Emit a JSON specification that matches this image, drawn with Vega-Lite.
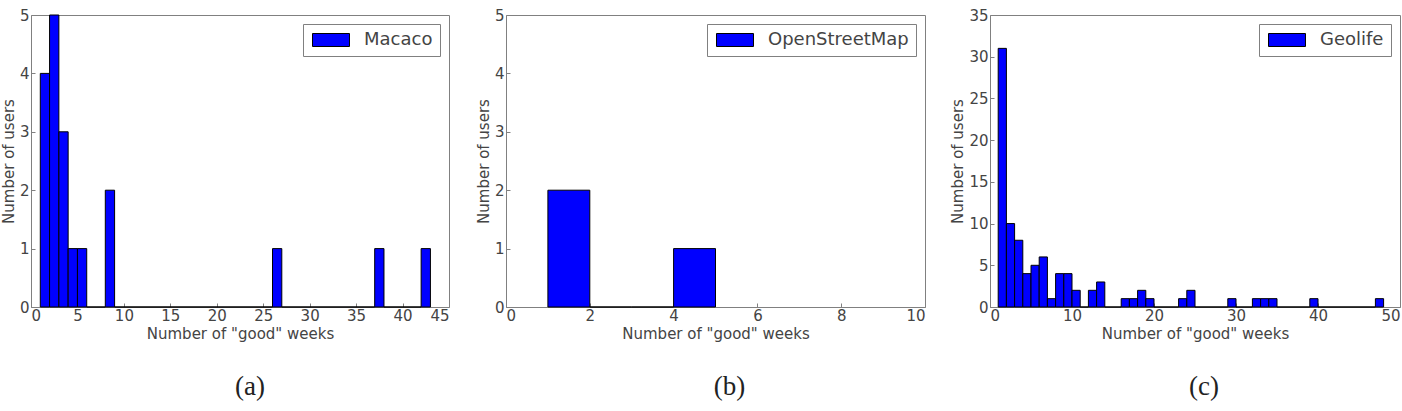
{
  "$schema": "https://vega.github.io/schema/vega-lite/v6.json",
  "padding": {"left": 0, "top": 7, "right": 0, "bottom": 0},
  "autosize": {"type": "pad"},
  "background": "white",
  "config": {
    "font": "DejaVu Sans",
    "view": {"stroke": "#808080", "strokeWidth": 1},
    "axis": {
      "labelFont": "DejaVu Sans", "labelFontSize": 15, "labelColor": "#444444",
      "titleFont": "DejaVu Sans", "titleFontSize": 15, "titleFontWeight": "normal", "titleColor": "#444444",
      "domain": false, "grid": false, "tickColor": "#808080", "tickSize": -4, "labelPadding": 6
    },
    "axisX": {"titlePadding": 3, "labelPadding": 5},
    "axisY": {"titlePadding": 3},
    "legend": {
      "orient": "top-right", "offset": 9, "strokeColor": "#808080", "fillColor": "white", "padding": 7,
      "symbolType": "M-1,-1H4.692V1H-1Z", "symbolSize": 169, "symbolStrokeColor": "black", "symbolStrokeWidth": 1,
      "symbolOpacity": 1, "labelFont": "DejaVu Sans", "labelFontSize": 18, "labelColor": "#444444", "labelOffset": 36,
      "cornerRadius": 0
    },
    "title": {"font": "Liberation Serif", "fontSize": 27, "fontWeight": "normal", "color": "#222222", "orient": "bottom", "offset": 33}
  },
  "bounds": "flush",
  "spacing": 57,
  "resolve": {"scale": {"color": "independent"}, "legend": {"color": "independent"}},
  "hconcat": [
    {
      "width": 418, "height": 292,
      "title": {"text": "(a)", "dx": 10},
      "data": {"values": [
        {"start": 1, "end": 2, "users": 4, "source": "Macaco"},
        {"start": 2, "end": 3, "users": 5, "source": "Macaco"},
        {"start": 3, "end": 4, "users": 3, "source": "Macaco"},
        {"start": 4, "end": 5, "users": 1, "source": "Macaco"},
        {"start": 5, "end": 6, "users": 1, "source": "Macaco"},
        {"start": 6, "end": 7, "users": 0, "source": "Macaco"},
        {"start": 7, "end": 8, "users": 0, "source": "Macaco"},
        {"start": 8, "end": 9, "users": 2, "source": "Macaco"},
        {"start": 9, "end": 26, "users": 0, "source": "Macaco"},
        {"start": 26, "end": 27, "users": 1, "source": "Macaco"},
        {"start": 27, "end": 37, "users": 0, "source": "Macaco"},
        {"start": 37, "end": 38, "users": 1, "source": "Macaco"},
        {"start": 38, "end": 42, "users": 0, "source": "Macaco"},
        {"start": 42, "end": 43, "users": 1, "source": "Macaco"}
      ]},
      "mark": {"type": "bar", "stroke": "black", "strokeWidth": 1, "opacity": 1},
      "encoding": {
        "x": {"field": "start", "type": "quantitative", "scale": {"domain": [0, 45], "nice": false, "zero": false},
              "axis": {"values": [0, 5, 10, 15, 20, 25, 30, 35, 40, 45], "title": "Number of \"good\" weeks"}},
        "x2": {"field": "end"},
        "y": {"field": "users", "type": "quantitative", "scale": {"domain": [0, 5], "nice": false},
              "axis": {"values": [0, 1, 2, 3, 4, 5], "title": "Number of users"}},
        "y2": {"datum": 0},
        "color": {"field": "source", "type": "nominal", "scale": {"range": ["#0000ff"]}, "legend": {"title": null}}
      }
    },
    {
      "bounds": "flush",
      "spacing": 65,
      "resolve": {"scale": {"color": "independent"}, "legend": {"color": "independent"}},
      "hconcat": [
        {
          "width": 419, "height": 292,
          "title": {"text": "(b)", "dx": 14},
          "data": {"values": [
            {"start": 1, "end": 2, "users": 2, "source": "OpenStreetMap"},
            {"start": 2, "end": 3, "users": 0, "source": "OpenStreetMap"},
            {"start": 3, "end": 4, "users": 0, "source": "OpenStreetMap"},
            {"start": 4, "end": 5, "users": 1, "source": "OpenStreetMap"}
          ]},
          "mark": {"type": "bar", "stroke": "black", "strokeWidth": 1, "opacity": 1},
          "encoding": {
            "x": {"field": "start", "type": "quantitative", "scale": {"domain": [0, 10], "nice": false, "zero": false},
                  "axis": {"values": [0, 2, 4, 6, 8, 10], "title": "Number of \"good\" weeks"}},
            "x2": {"field": "end"},
            "y": {"field": "users", "type": "quantitative", "scale": {"domain": [0, 5], "nice": false},
                  "axis": {"values": [0, 1, 2, 3, 4, 5], "title": "Number of users"}},
            "y2": {"datum": 0},
            "color": {"field": "source", "type": "nominal", "scale": {"range": ["#0000ff"]}, "legend": {"title": null}}
          }
        },
        {
          "width": 410, "height": 292,
          "title": {"text": "(c)", "dx": 9},
          "data": {"values": [
            {"start": 1, "end": 2, "users": 31, "source": "Geolife"},
            {"start": 2, "end": 3, "users": 10, "source": "Geolife"},
            {"start": 3, "end": 4, "users": 8, "source": "Geolife"},
            {"start": 4, "end": 5, "users": 4, "source": "Geolife"},
            {"start": 5, "end": 6, "users": 5, "source": "Geolife"},
            {"start": 6, "end": 7, "users": 6, "source": "Geolife"},
            {"start": 7, "end": 8, "users": 1, "source": "Geolife"},
            {"start": 8, "end": 9, "users": 4, "source": "Geolife"},
            {"start": 9, "end": 10, "users": 4, "source": "Geolife"},
            {"start": 10, "end": 11, "users": 2, "source": "Geolife"},
            {"start": 11, "end": 12, "users": 0, "source": "Geolife"},
            {"start": 12, "end": 13, "users": 2, "source": "Geolife"},
            {"start": 13, "end": 14, "users": 3, "source": "Geolife"},
            {"start": 14, "end": 16, "users": 0, "source": "Geolife"},
            {"start": 16, "end": 17, "users": 1, "source": "Geolife"},
            {"start": 17, "end": 18, "users": 1, "source": "Geolife"},
            {"start": 18, "end": 19, "users": 2, "source": "Geolife"},
            {"start": 19, "end": 20, "users": 1, "source": "Geolife"},
            {"start": 20, "end": 23, "users": 0, "source": "Geolife"},
            {"start": 23, "end": 24, "users": 1, "source": "Geolife"},
            {"start": 24, "end": 25, "users": 2, "source": "Geolife"},
            {"start": 25, "end": 29, "users": 0, "source": "Geolife"},
            {"start": 29, "end": 30, "users": 1, "source": "Geolife"},
            {"start": 30, "end": 32, "users": 0, "source": "Geolife"},
            {"start": 32, "end": 33, "users": 1, "source": "Geolife"},
            {"start": 33, "end": 34, "users": 1, "source": "Geolife"},
            {"start": 34, "end": 35, "users": 1, "source": "Geolife"},
            {"start": 35, "end": 39, "users": 0, "source": "Geolife"},
            {"start": 39, "end": 40, "users": 1, "source": "Geolife"},
            {"start": 40, "end": 47, "users": 0, "source": "Geolife"},
            {"start": 47, "end": 48, "users": 1, "source": "Geolife"}
          ]},
          "mark": {"type": "bar", "stroke": "black", "strokeWidth": 1, "opacity": 1},
          "encoding": {
            "x": {"field": "start", "type": "quantitative", "scale": {"domain": [0, 50], "nice": false, "zero": false},
                  "axis": {"values": [0, 10, 20, 30, 40, 50], "title": "Number of \"good\" weeks", "labelFlush": 2}},
            "x2": {"field": "end"},
            "y": {"field": "users", "type": "quantitative", "scale": {"domain": [0, 35], "nice": false},
                  "axis": {"values": [0, 5, 10, 15, 20, 25, 30, 35], "title": "Number of users"}},
            "y2": {"datum": 0},
            "color": {"field": "source", "type": "nominal", "scale": {"range": ["#0000ff"]}, "legend": {"title": null}}
          }
        }
      ]
    }
  ]
}
